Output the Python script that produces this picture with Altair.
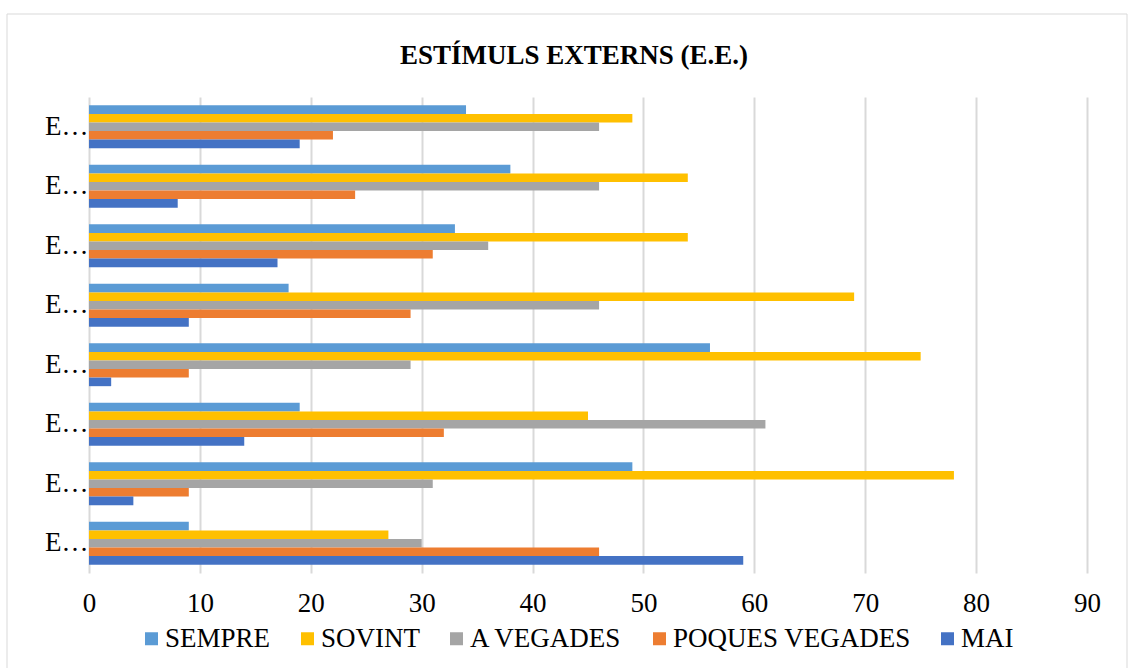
import altair as alt
import pandas as pd

categories = ["E.E.8", "E.E.7", "E.E.6", "E.E.5", "E.E.4", "E.E.3", "E.E.2", "E.E.1"]
series = ["SEMPRE", "SOVINT", "A VEGADES", "POQUES VEGADES", "MAI"]
colors = ["#5B9BD5", "#FFC000", "#A5A5A5", "#ED7D31", "#4472C4"]

sempre = [34, 38, 33, 18, 56, 19, 49, 9]
sovint = [49, 54, 54, 69, 75, 45, 78, 27]
a_vegades = [46, 46, 36, 46, 29, 61, 31, 30]
poques_vegades = [22, 24, 31, 29, 9, 32, 9, 46]
mai = [19, 8, 17, 9, 2, 14, 4, 59]

x_ticks = [0, 10, 20, 30, 40, 50, 60, 70, 80, 90]

values = [sempre, sovint, a_vegades, poques_vegades, mai]
rows = []
for s, vals in zip(series, values):
    for c, v in zip(categories, vals):
        rows.append({"cat": c, "serie": s, "val": v})
df = pd.DataFrame(rows)

FONT = "Liberation Serif"

bars = alt.Chart(df).mark_bar().encode(
    x=alt.X("val:Q",
            scale=alt.Scale(domain=[0, 90], nice=False),
            axis=alt.Axis(values=x_ticks, title=None, domain=False, ticks=False,
                          grid=True, gridColor="#D9D9D9", gridWidth=2,
                          labelFont=FONT, labelFontSize=27, labelColor="#000000",
                          labelPadding=17, labelFlush=False)),
    y=alt.Y("cat:N", sort=categories,
            scale=alt.Scale(paddingInner=0.28, paddingOuter=0.14),
            axis=alt.Axis(title=None, domain=False, ticks=False, labelExpr="'E…'",
                          labelFont=FONT, labelFontSize=27, labelColor="#000000",
                          labelPadding=1)),
    yOffset=alt.YOffset("serie:N", sort=series, scale=alt.Scale(paddingInner=0, paddingOuter=0)),
    color=alt.Color("serie:N", sort=series,
                    scale=alt.Scale(domain=series, range=colors),
                    legend=alt.Legend(orient="none", legendX=49, legendY=528,
                                      direction="horizontal", columns=5, title=None,
                                      symbolType="square", symbolSize=169,
                                      symbolStrokeWidth=0, padding=0,
                                      labelFont=FONT, labelFontSize=27,
                                      labelColor="#000000", labelOffset=0,
                                      columnPadding=23, labelLimit=400)),
)

border = alt.Chart(pd.DataFrame({"a": [0]})).mark_rect(
    fill=None, stroke="#D9D9D9", strokeWidth=1
).encode(
    x=alt.value(-82), x2=alt.value(1038), y=alt.value(-83), y2=alt.value(590)
)

chart = alt.layer(border, bars).properties(
    width=998,
    height=476,
    title=alt.TitleParams(
        text="ESTÍMULS EXTERNS (E.E.)",
        font=FONT, fontSize=27, fontWeight="bold", color="#000000",
        anchor="middle", dx=-14, baseline="alphabetic", offset=-77,
    ),
    autosize=alt.AutoSizeParams(type="none"),
    padding={"left": 89, "top": 97, "right": 44, "bottom": 95},
    background="#FFFFFF",
).configure(font=FONT).configure_view(stroke=None)

chart.save("out.html", embed_options={"renderer": "svg", "actions": False})
